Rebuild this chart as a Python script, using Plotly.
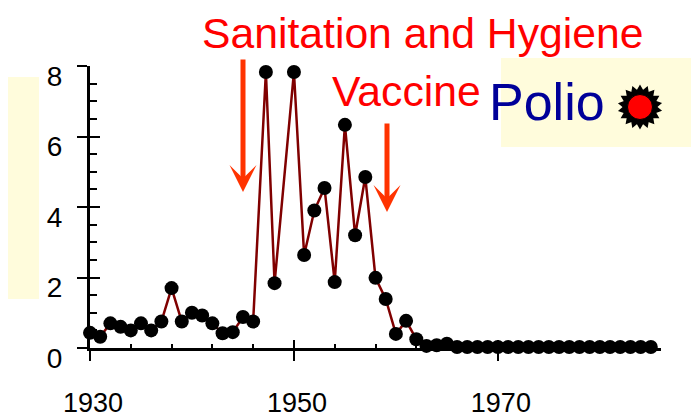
import plotly.graph_objects as go

# ---- data ----
years = [1930, 1931, 1932, 1933, 1934, 1935, 1936, 1937, 1938, 1939,
         1940, 1941, 1942, 1943, 1944, 1945, 1946, 1947.25, 1948.1, 1950,
         1951, 1952, 1953, 1954, 1955, 1956, 1957, 1958, 1959, 1960,
         1961, 1962, 1963, 1964, 1965, 1966, 1967, 1968, 1969, 1970,
         1971, 1972, 1973, 1974, 1975, 1976, 1977, 1978, 1979, 1980,
         1981, 1982, 1983, 1984, 1985]
cases = [0.43, 0.32, 0.70, 0.60, 0.50, 0.70, 0.50, 0.75, 1.70, 0.75,
         1.00, 0.92, 0.70, 0.42, 0.45, 0.88, 0.75, 7.83, 1.84, 7.83,
         2.64, 3.90, 4.54, 1.87, 6.33, 3.20, 4.85, 1.99, 1.39, 0.40,
         0.77, 0.25, 0.06, 0.08, 0.12, 0.03, 0.03, 0.03, 0.03, 0.03,
         0.03, 0.03, 0.03, 0.03, 0.03, 0.03, 0.03, 0.03, 0.03, 0.03,
         0.03, 0.03, 0.03, 0.03, 0.03]
x_ticks = [1930, 1950, 1970]
x_ticklabels = ["1930", "1950", "1970"]
y_ticks = [0, 2, 4, 6, 8]
y_ticklabels = ["0", "2", "4", "6", "8"]
x_range = [1930, 1986]
y_range = [0, 8]

# the page body has an 8px margin, so the figure is slightly smaller
OFF = 8
W, H = 699 - OFF, 420 - OFF
L, R, T, B = 90 - OFF, 38, 66 - OFF, 72
PW, PH = W - L - R, H - T - B


def px(x):
    # reference-window pixel x -> paper fraction
    return (x - OFF - L) / PW


def py(y):
    # reference-window pixel y -> paper fraction
    return (H - B - (y - OFF)) / PH


LINE_RED = "#800000"
ARROW = "#FF3300"
YELLOW = "#FFFCDC"
YFONT = dict(family="Liberation Sans", size=28, color="black")
XFONT = dict(family="Liberation Sans", size=27, color="black")

fig = go.Figure()

fig.add_trace(go.Scatter(
    x=years, y=cases, mode="lines+markers",
    line=dict(color=LINE_RED, width=2.5),
    marker=dict(color="black", size=14),
    cliponaxis=False, showlegend=False, hoverinfo="x+y"))

# dummy trace to register the overlay axes used for crossing ticks
fig.add_trace(go.Scatter(x=[None], y=[None], xaxis="x2", yaxis="y2",
                         showlegend=False, hoverinfo="skip"))

# Polio legend symbol (sunburst)
fig.add_trace(go.Scatter(
    x=[px(640)] * 3, y=[py(107)] * 3, xaxis="x3", yaxis="y3", mode="markers",
    marker=dict(symbol="hexagram", size=34, color="black", angle=[0, 20, 40]),
    showlegend=False, hoverinfo="skip", cliponaxis=False))
fig.add_trace(go.Scatter(
    x=[px(640)], y=[py(107)], xaxis="x3", yaxis="y3", mode="markers",
    marker=dict(symbol="circle", size=25, color="#FF0000",
                line=dict(color="black", width=1)),
    showlegend=False, hoverinfo="skip", cliponaxis=False))

fig.update_layout(
    width=W, height=H,
    margin=dict(l=L, r=R, t=T, b=B, pad=0, autoexpand=False),
    paper_bgcolor="white", plot_bgcolor="rgba(0,0,0,0)",
    xaxis=dict(range=x_range, showgrid=False, zeroline=False, automargin=False,
               showline=True, linecolor="black", linewidth=3,
               ticks="outside", tickvals=x_ticks, ticktext=x_ticklabels,
               ticklen=10, tickwidth=2, tickcolor="black",
               tickfont=XFONT, ticklabelstandoff=19, ticklabelshift=3),
    yaxis=dict(range=y_range, showgrid=False, zeroline=False, automargin=False,
               showline=True, linecolor="black", linewidth=3,
               ticks="outside", tickvals=y_ticks, ticktext=y_ticklabels,
               ticklen=10, tickwidth=2, tickcolor="black",
               tickfont=YFONT, ticklabelstandoff=9, ticklabelshift=10),
    xaxis2=dict(range=x_range, overlaying="x", anchor="y2", showgrid=False,
                zeroline=False, showline=False, showticklabels=False,
                automargin=False,
                ticks="inside", tickvals=x_ticks, ticklen=8, tickwidth=2,
                tickcolor="black",
                minor=dict(ticks="inside", tick0=1930, dtick=4, ticklen=4,
                           tickwidth=2, tickcolor="black", showgrid=False)),
    yaxis2=dict(range=y_range, overlaying="y", anchor="x2", showgrid=False,
                zeroline=False, showline=False, showticklabels=False,
                automargin=False,
                ticks="inside", tickvals=y_ticks, ticklen=10, tickwidth=2,
                tickcolor="black",
                minor=dict(ticks="inside", tick0=0, dtick=0.5, ticklen=7,
                           tickwidth=2, tickcolor="black", showgrid=False)),
    xaxis3=dict(range=[0, 1], domain=[0, 1], overlaying="x", anchor="y3",
                visible=False, fixedrange=True, automargin=False),
    yaxis3=dict(range=[0, 1], domain=[0, 1], overlaying="y", anchor="x3",
                visible=False, fixedrange=True, automargin=False),
)

# pale yellow background panels
fig.add_shape(type="rect", xref="paper", yref="paper", layer="below",
              x0=px(OFF), x1=px(39), y0=py(299), y1=py(77),
              fillcolor=YELLOW, line=dict(width=0))
fig.add_shape(type="rect", xref="paper", yref="paper", layer="below",
              x0=px(501), x1=px(699), y0=py(147), y1=py(58),
              fillcolor=YELLOW, line=dict(width=0))

# texts
fig.add_annotation(text="Sanitation and Hygiene", xref="paper", yref="paper",
                   x=px(422), y=py(OFF), xanchor="center", yanchor="top",
                   showarrow=False, borderpad=0,
                   font=dict(family="Liberation Sans", size=42.7, color="#FF0000"))
fig.add_annotation(text="Vaccine", xref="paper", yref="paper",
                   x=px(406), y=py(91), xanchor="center", yanchor="middle",
                   showarrow=False,
                   font=dict(family="Liberation Sans", size=42.7, color="#FF0000"))
fig.add_annotation(text="Polio", xref="paper", yref="paper",
                   x=px(547), y=py(102), xanchor="center", yanchor="middle",
                   showarrow=False,
                   font=dict(family="Liberation Sans", size=52, color="#000099"))

# arrows
fig.add_annotation(text="", xref="paper", yref="paper",
                   x=px(243), y=py(192), ax=0, ay=-134,
                   showarrow=True, arrowhead=3, arrowsize=0.9, arrowwidth=5,
                   arrowcolor=ARROW)
fig.add_annotation(text="", xref="paper", yref="paper",
                   x=px(387), y=py(212), ax=0, ay=-90,
                   showarrow=True, arrowhead=3, arrowsize=0.9, arrowwidth=5,
                   arrowcolor=ARROW)

fig.write_html("out.html")
